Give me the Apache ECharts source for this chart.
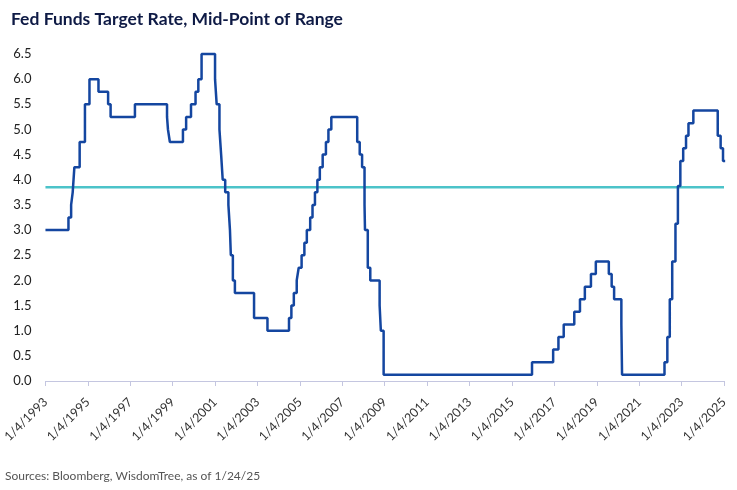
<!DOCTYPE html>
<html><head><meta charset="utf-8">
<script src="https://cdn.jsdelivr.net/npm/echarts@6/dist/echarts.min.js"></script>
<style>html,body{margin:0;padding:0;background:#fff}#c{width:737px;height:490px}</style>
</head><body><div id="c"></div>
<script>
// Change dates of the target rate (mid-point) and the new level from that date
const dates = ['1993-01-04','1994-02-04','1994-03-22','1994-04-18','1994-05-17','1994-08-16','1994-11-15','1995-02-01','1995-07-06','1995-12-19','1996-01-31','1997-03-25','1998-09-29','1998-10-15','1998-11-17','1999-06-30','1999-08-24','1999-11-16','2000-02-02','2000-03-21','2000-05-16','2001-01-03','2001-01-31','2001-03-20','2001-04-18','2001-05-15','2001-06-27','2001-08-21','2001-09-17','2001-10-02','2001-11-06','2001-12-11','2002-11-06','2003-06-25','2004-06-30','2004-08-10','2004-09-21','2004-11-10','2004-12-14','2005-02-02','2005-03-22','2005-05-03','2005-06-30','2005-08-09','2005-09-20','2005-11-01','2005-12-13','2006-01-31','2006-03-28','2006-05-10','2006-06-29','2007-09-18','2007-10-31','2007-12-11','2008-01-22','2008-01-30','2008-03-18','2008-04-30','2008-10-08','2008-10-29','2008-12-16','2015-12-16','2016-12-14','2017-03-15','2017-06-14','2017-12-13','2018-03-21','2018-06-13','2018-09-26','2018-12-19','2019-07-31','2019-09-18','2019-10-30','2020-03-03','2020-03-15','2022-03-16','2022-05-04','2022-06-15','2022-07-27','2022-09-21','2022-11-02','2022-12-14','2023-02-01','2023-03-22','2023-05-03','2023-07-26','2024-09-18','2024-11-07','2024-12-18','2025-01-24'];
const rates = [3.0,3.25,3.5,3.75,4.25,4.75,5.5,6.0,5.75,5.5,5.25,5.5,5.25,5.0,4.75,5.0,5.25,5.5,5.75,6.0,6.5,6.0,5.5,5.0,4.5,4.0,3.75,3.5,3.0,2.5,2.0,1.75,1.25,1.0,1.25,1.5,1.75,2.0,2.25,2.5,2.75,3.0,3.25,3.5,3.75,4.0,4.25,4.5,4.75,5.0,5.25,4.75,4.5,4.25,3.5,3.0,2.25,2.0,1.5,1.0,0.125,0.375,0.625,0.875,1.125,1.375,1.625,1.875,2.125,2.375,2.125,1.875,1.625,1.125,0.125,0.375,0.875,1.625,2.375,3.125,3.875,4.375,4.625,4.875,5.125,5.375,4.875,4.625,4.375,4.375];
const averageRate = 3.85;
const axisStart = '1993-01-04';
const axisYears = 32;       // span of the x axis, years
const tickEveryYears = 2;   // label every 2 years
const yTicks = [0, 6.5, 0.5]; // min, max, step

const DAY = 86400000;
const toTs = s => { const p = s.split('-').map(Number); return Date.UTC(p[0], p[1]-1, p[2]); };
const t0 = toTs(axisStart);
const step = tickEveryYears * 365.25 * DAY;
const tMax = t0 + (axisYears / tickEveryYears) * step;
const seriesData = dates.map((d, i) => [toTs(d), rates[i]]);

const chart = echarts.init(document.getElementById('c'), null, {renderer: 'canvas'});
chart.setOption({
  animation: false,
  backgroundColor: '#fff',
  title: {
    text: 'Fed Funds Target Rate, Mid-Point of Range',
    left: 6, top: 5,
    textStyle: {fontFamily: 'Lato', fontWeight: 'bold', fontSize: 17.5, color: '#0e1a45'}
  },
  graphic: [{
    type: 'text', left: 5, top: 470,
    style: {text: 'Sources: Bloomberg, WisdomTree, as of 1/24/25', font: '12px Lato', fill: '#555'}
  }],
  grid: {left: 44, right: 13, top: 54, bottom: 109, containLabel: false},
  xAxis: {
    type: 'value', min: t0, max: tMax, interval: step,
    axisLine: {show: true, lineStyle: {color: '#c4c6e0', width: 1}},
    axisTick: {show: true, length: 5, lineStyle: {color: '#c4c6e0'}},
    splitLine: {show: false},
    axisLabel: {
      rotate: 45, margin: 19, fontSize: 12.5, fontFamily: 'Lato', color: '#333',
      formatter: v => '1/4/' + Math.round(1993 + (v - t0) / (365.25 * DAY))
    }
  },
  yAxis: {
    type: 'value', min: yTicks[0], max: yTicks[1], interval: yTicks[2],
    axisLine: {show: false}, axisTick: {show: false}, splitLine: {show: false},
    axisLabel: {fontSize: 13, fontFamily: 'Lato', color: '#222', margin: 14, formatter: v => v.toFixed(1)}
  },
  series: [{
    type: 'line', step: 'end', data: seriesData, showSymbol: false, clip: false,
    lineStyle: {color: '#1446a0', width: 2.5}
  }, {
    type: 'line', data: [[t0, averageRate], [tMax, averageRate]], showSymbol: false,
    lineStyle: {color: '#4cc3c9', width: 2.5}, z: 1
  }]
});
</script></body></html>
